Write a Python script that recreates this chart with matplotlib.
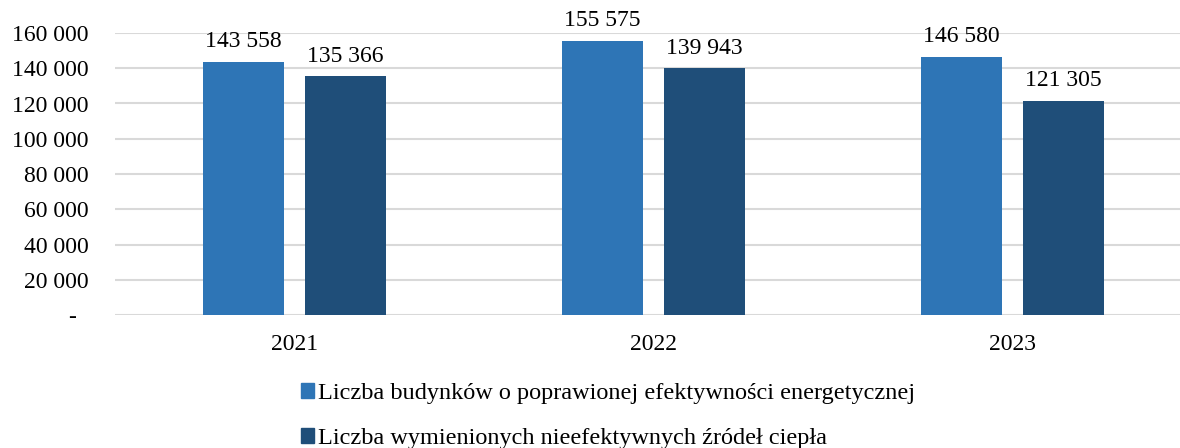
import numpy as np
import matplotlib.pyplot as plt
from matplotlib.patches import Patch

plt.rcParams["font.family"] = ["Liberation Serif", "DejaVu Serif"]

years = ["2021", "2022", "2023"]
buildings = [143558, 155575, 146580]
heat_sources = [135366, 139943, 121305]
series_names = [
    "Liczba budynków o poprawionej efektywności energetycznej",
    "Liczba wymienionych nieefektywnych źródeł ciepła",
]
yticks = np.arange(0, 160001, 20000)

BLUE = "#2E75B6"
DARK = "#1F4E79"
GRID = "#D9D9D9"
FS = 17


def fmt(v):
    # accounting style: zero shown as a dash
    if v == 0:
        return "-  "
    return f"{int(v):,}".replace(",", " ")


fig = plt.figure(figsize=(11.8, 4.48), dpi=100)
ax = fig.add_axes([115 / 1180, 1 - 315 / 448, 1077 / 1180, 282 / 448])

x = np.arange(len(years))
w = 0.223
off = 0.142
b1 = ax.bar(x - off, buildings, w, color=BLUE, zorder=3)
b2 = ax.bar(x + off, heat_sources, w, color=DARK, zorder=3)

for bars, vals in ((b1, buildings), (b2, heat_sources)):
    for rect, v in zip(bars, vals):
        ax.annotate(fmt(v), (rect.get_x() + rect.get_width() / 2, v),
                    xytext=(0, 7), textcoords="offset points",
                    ha="center", va="bottom", fontsize=FS, clip_on=False)

ax.set_xlim(-0.5, len(years) - 0.5)
ax.set_ylim(0, 160000)
ax.set_yticks(yticks)
ax.set_yticklabels([fmt(t) for t in yticks])
ax.set_xticks(x)
ax.set_xticklabels(years)
ax.tick_params(axis="both", length=0, labelsize=FS, colors="black")
ax.tick_params(axis="y", pad=19)
ax.tick_params(axis="x", pad=14)
ax.yaxis.grid(True, color=GRID, linewidth=1.5, zorder=0)
ax.set_axisbelow(True)
for s in ax.spines.values():
    s.set_visible(False)

handles = [Patch(color=BLUE), Patch(color=DARK)]
fig.legend(handles, series_names, loc="upper left",
           bbox_to_anchor=(301 / 1180, 1 - 383 / 448),
           frameon=False, fontsize=17.5, ncol=1,
           handlelength=0.55, handleheight=0.55, handletextpad=0.15,
           labelspacing=1.0, borderpad=0, borderaxespad=0)

fig.savefig("out.png", dpi=100)
